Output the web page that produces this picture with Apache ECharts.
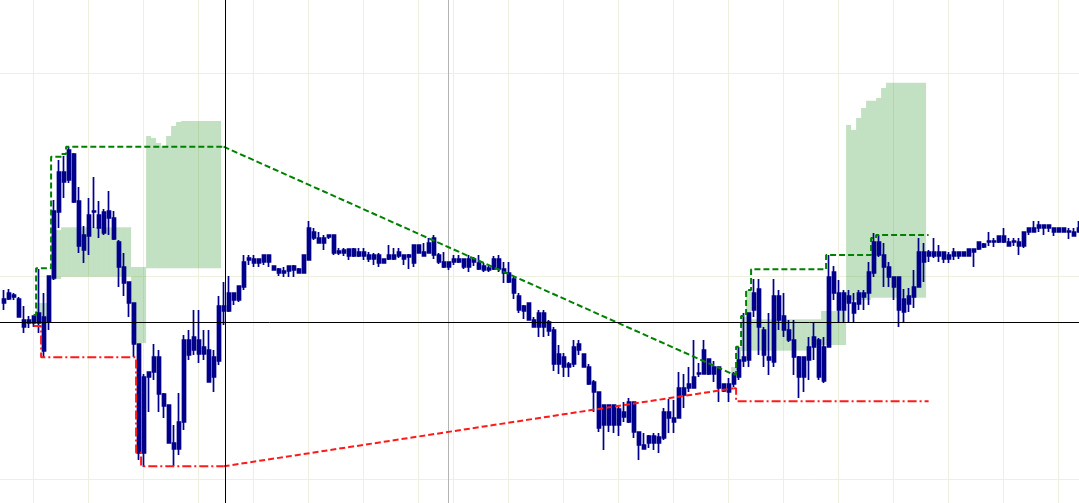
<!DOCTYPE html>
<html>
<head>
<meta charset="utf-8">
<script src="https://cdn.jsdelivr.net/npm/echarts@6/dist/echarts.min.js"></script>
<style>
html,body{margin:0;padding:0;background:#fff;}
#chart{width:1079px;height:503px;}
</style>
</head>
<body>
<div id="chart"></div>
<script>
// ---- candle values (index = bar number) ----
const open = [
384,384,388,384,363,360,360,360,366,361,
405,471,501,503,529,482,448,447,471,468,
471,465,465,441,416,401,380,339,306,306,
311,326,289,278,240,234,261,328,333,343,
336,333,306,322,372,372,383,383,396,423,
424,420,421,428,417,414,412,412,413,414,
410,423,445,445,440,446,448,432,430,434,
427,431,427,428,424,428,420,424,428,427,
428,426,420,430,431,430,445,428,421,416,
421,424,424,416,421,420,417,415,414,424,
414,410,404,387,377,380,363,356,370,361,
353,329,316,319,319,333,329,316,301,291,
258,278,258,274,266,261,281,251,238,240,
247,240,245,265,265,265,288,295,295,309,
309,324,316,316,299,299,299,306,322,323,
373,394,353,326,321,363,367,353,343,326,
306,323,336,343,302,336,390,390,373,380,
380,379,386,390,410,428,428,416,406,406,
384,379,386,396,421,427,431,427,431,428,
427,431,427,427,431,434,439,441,442,441,
447,441,441,441,437,451,455,455,458,455,
455,451,455,451,451,451];
const close = [
380,390,386,366,356,363,367,370,332,407,
472,511,511,533,481,437,433,468,472,455,
450,472,444,416,400,380,339,230,230,311,
326,289,277,240,234,261,343,343,346,329,
329,301,326,377,377,390,390,397,421,425,
420,424,428,421,413,410,410,417,417,410,
428,455,451,440,445,448,430,430,433,427,
434,427,431,424,428,420,424,428,424,431,
424,428,438,438,427,440,428,421,416,421,
424,421,416,424,424,414,413,413,424,414,
410,401,390,373,372,363,356,370,356,352,
319,319,326,316,336,339,316,299,291,255,
278,258,278,258,271,281,251,238,234,247,
240,246,271,271,261,295,295,299,306,310,
333,309,309,295,292,291,309,323,326,370,
390,356,328,323,387,387,353,343,326,306,
326,336,346,306,336,406,411,373,390,387,
370,390,390,411,441,441,416,406,396,373,
371,387,396,431,431,431,427,431,424,424,
431,427,431,434,434,441,436,442,441,447,
441,437,442,437,451,455,451,458,455,458,
451,455,451,452,447,455];
const low = [
373,383,383,366,350,355,356,350,326,353,
403,455,485,500,480,430,420,428,455,445,
448,448,443,396,387,366,326,223,216,271,
303,271,265,240,217,228,253,323,328,320,
323,301,291,318,358,371,378,381,393,418,
416,416,418,416,413,407,406,406,406,410,
410,423,443,440,433,444,428,428,427,423,
426,426,423,421,418,416,420,423,423,425,
418,414,416,430,427,430,424,419,415,413,
418,420,414,411,417,413,411,411,413,411,
400,400,384,370,364,363,356,346,346,347,
312,309,306,306,316,328,316,298,271,251,
233,251,250,247,261,260,245,223,234,235,
233,230,243,250,250,265,275,291,295,306,
309,308,301,281,291,281,296,303,316,316,
366,328,316,308,316,353,346,341,308,285,
291,303,323,303,300,336,383,360,360,360,
360,373,373,378,406,426,396,396,383,356,
361,371,375,396,401,421,425,421,420,420,
423,424,427,427,416,433,435,437,436,440,
440,437,437,428,435,448,451,451,448,451,
447,451,451,444,447,451];
const high = [
393,394,390,386,377,367,367,414,390,407,
483,523,527,536,530,496,457,485,506,482,
474,492,472,443,430,401,380,339,309,311,
339,333,290,278,258,290,348,353,373,373,
353,353,333,387,401,407,390,397,428,428,
428,424,428,428,417,415,416,417,418,415,
428,462,455,451,448,448,448,435,435,434,
435,435,435,431,430,430,424,438,435,435,
428,429,438,438,440,445,448,430,431,421,
428,428,424,428,426,428,420,417,427,428,
421,421,406,390,378,380,366,373,373,363,
356,338,330,321,343,343,329,319,303,291,
278,278,278,276,281,285,281,251,250,248,
250,250,275,284,283,311,309,316,343,320,
343,324,322,316,299,305,311,336,370,370,
404,404,356,370,404,393,390,363,363,327,
326,346,360,345,346,428,417,403,393,393,
390,393,393,421,450,448,440,421,406,406,
394,395,413,445,440,433,445,438,431,431,
435,431,431,434,434,441,440,451,445,447,
455,445,445,445,451,455,462,462,458,458,
455,455,455,455,455,462];

// ---- bands: runs of [fromBar, toBar, value] ----
const upperRuns = [
[6,6,368],[7,9,414.7],[10,11,526.3],[12,12,529],[13,44,536.3],
[146,146,308.5],[147,147,336.3],[148,148,367],[149,149,393],
[150,164,413.7],[165,173,428],[174,174,445],[175,185,448]];
const lowerRuns = [
[6,7,357],[8,26,325.7],[27,27,230.3],[28,44,216.7],
[146,146,294.7],[147,185,281.7]];

// ---- shaded zones: runs of [fromBar, toBar, top, bottom] ----
const zoneRuns = [
[7,9,380,361],[10,10,448,403],[11,11,453,404],[12,25,455.7,406.3],[26,28,416,340],
[29,29,547,414.7],[30,30,545,414.7],[31,31,540,414.7],[32,32,537,414.7],
[33,33,547,414.7],[34,34,557,414.7],[35,35,561,414.7],[36,43,562,414.7],
[146,146,316,310],[147,147,336,313],[148,148,366,332],[149,149,393,332],
[150,161,363.7,332.3],[162,163,363.7,338],[164,168,372,338],
[169,169,558,383],[170,170,553,383],[171,171,565,383],[172,172,575,383],
[173,173,582.3,383],[174,174,582.3,385.3],[175,175,585,385.3],[176,176,595,385.3],
[177,184,600.3,385.3]];

// ---- grid levels, vertical grid bars, session marker, cursor ----
const priceLevels = [203.4, 406.8, 610.2];
const gridBars = [6,17,28,39,50,61,72,83,90,101,112,123,134,145,156,167,178,189,200,211];
const sessionBar = 89;
const cursor = [44.35, 360.8];

// ---- build ----
const bars = open.map((o, i) => [i, o, close[i], low[i], high[i]]);
// split runs into contiguous segments of [bar, value] points
function segments(runs) {
  const segs = [];
  let cur = null, prevEnd = null;
  runs.forEach(([a, b, v]) => {
    if (prevEnd === null || a !== prevEnd + 1) { cur = []; segs.push(cur); }
    for (let i = a; i <= b; i++) cur.push([i, v]);
    prevEnd = b;
  });
  return segs;
}
function bridges(segs) {
  const out = [];
  for (let s = 1; s < segs.length; s++) {
    out.push([segs[s - 1][segs[s - 1].length - 1], segs[s][0]]);
  }
  return out;
}
const zoneData = [];
zoneRuns.forEach(([a, b, t, bt]) => { for (let i = a; i <= b; i++) zoneData.push([i, t, bt]); });

const GREEN = '#008000', RED = '#ff1a1a', NAVY = '#00008b';
const series = [
  {
    type: 'custom', z: 1, data: zoneData, encode: {x: 0, y: [1, 2]},
    renderItem: (params, api) => {
      const i = api.value(0);
      const p1 = api.coord([i - 0.5, api.value(1)]);
      const p2 = api.coord([i + 0.5, api.value(2)]);
      return {type: 'rect', shape: {x: p1[0], y: p1[1], width: p2[0] - p1[0], height: p2[1] - p1[1]},
              style: {fill: 'rgba(0,128,0,0.24)'}};
    }
  },
  {
    type: 'candlestick', z: 2, data: bars, encode: {x: 0, y: [1, 2, 3, 4]},
    barWidth: 3.6,
    itemStyle: {color: NAVY, color0: NAVY, borderColor: NAVY, borderColor0: NAVY, borderColorDoji: NAVY, borderWidth: 1.7},
    markLine: {
      silent: true, z: 10, symbol: ['none', 'none'], label: {show: false},
      lineStyle: {color: '#000', width: 1, type: 'solid'},
      data: [{xAxis: cursor[0]}, {yAxis: cursor[1]}]
    }
  }
];
const upSegs = segments(upperRuns), loSegs = segments(lowerRuns);
upSegs.forEach(seg => series.push({
  type: 'line', z: 3, data: seg, step: 'middle', showSymbol: false, symbol: 'none',
  lineStyle: {color: GREEN, width: 2, type: [6, 3]}
}));
loSegs.forEach((seg, k) => series.push({
  type: 'line', z: 3, data: seg, step: 'middle', showSymbol: false, symbol: 'none',
  lineStyle: {color: RED, width: 2, type: [9, 3, 2, 3]},
  markLine: k === 0 ? {
    silent: true, z: 1, symbol: ['none', 'none'], label: {show: false},
    lineStyle: {color: '#b4b4b4', width: 1, type: 'solid'},
    data: [{xAxis: sessionBar}]
  } : undefined
}));
bridges(upSegs).forEach(seg => series.push({
  type: 'line', z: 3, data: seg, showSymbol: false, symbol: 'none',
  lineStyle: {color: GREEN, width: 2, type: [6, 3]}
}));
bridges(loSegs).forEach(seg => series.push({
  type: 'line', z: 3, data: seg, showSymbol: false, symbol: 'none',
  lineStyle: {color: RED, width: 2, type: [6, 3]}
}));

const chart = echarts.init(document.getElementById('chart'), null, {renderer: 'canvas'});
chart.setOption({
  animation: false,
  backgroundColor: '#ffffff',
  grid: {left: 0, right: 0, top: 0, bottom: 0},
  xAxis: {
    type: 'value', min: -0.72, max: 215.08,
    axisLine: {show: false}, axisLabel: {show: false},
    axisTick: {show: false, customValues: gridBars},
    splitLine: {show: true, lineStyle: {color: '#efefdf', width: 1}}
  },
  yAxis: {
    type: 'value', min: 180, max: 683,
    axisLine: {show: false}, axisLabel: {show: false},
    axisTick: {show: false, customValues: priceLevels},
    splitLine: {show: true, lineStyle: {color: '#efefdf', width: 1}}
  },
  series: series
});
</script>
</body>
</html>
